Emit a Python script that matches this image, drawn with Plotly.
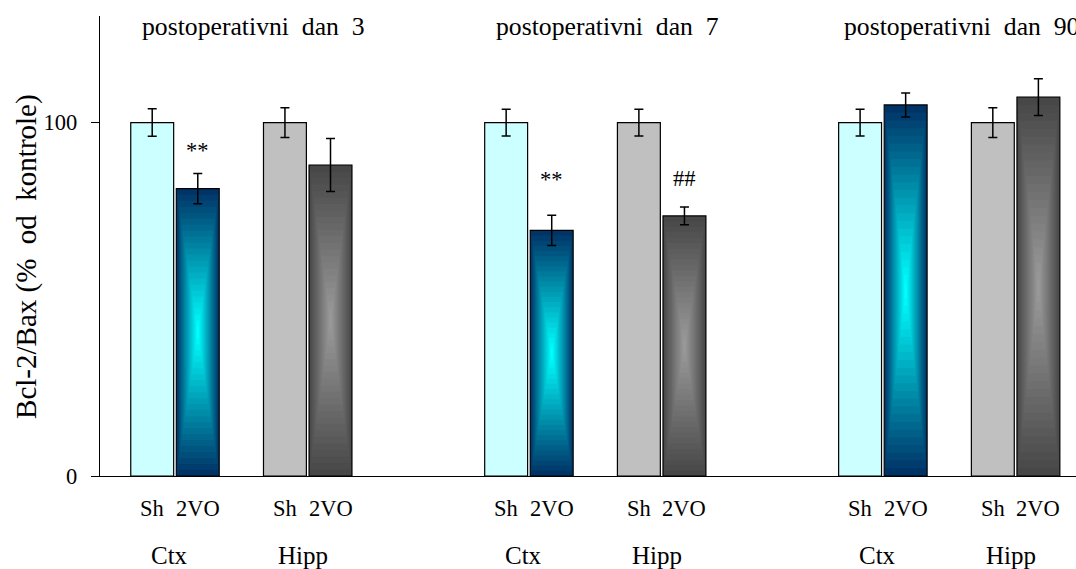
import base64
import plotly.graph_objects as go

# ---------------- data ----------------
days = ["postoperativni  dan  3", "postoperativni  dan  7", "postoperativni  dan  90"]
regions = ["Ctx", "Hipp"]
conditions = ["Sh", "2VO"]

ctx_sh = [100.0, 100.0, 100.0]
ctx_sh_se = [3.9, 3.8, 3.8]
ctx_2vo = [81.3, 69.5, 105.0]
ctx_2vo_se = [4.3, 4.3, 3.4]
hipp_sh = [100.0, 100.0, 100.0]
hipp_sh_se = [4.2, 3.8, 4.2]
hipp_2vo = [88.0, 73.6, 107.2]
hipp_2vo_se = [7.5, 2.5, 5.2]

# significance marks: (text, day index, region index, y position of the text)
sig_marks = [("**", 0, 0, 92.2), ("**", 1, 0, 83.9), ("##", 1, 1, 84.2)]

y_ticks = [0, 100]

# ---------------- styling ----------------
FONT = "Liberation Serif, Times New Roman, serif"
GROUP_STEP = 8.0
REGION_STEP = 3.0
COND_STEP = 1.03
BAR_W = 0.97

sh_colors = {"Ctx": "#ccffff", "Hipp": "#c0c0c0"}
grad_colors = {"Ctx": ("#003366", "#00ffff"), "Hipp": ("#474747", "#9a9a9a")}

values = {("Ctx", "Sh"): (ctx_sh, ctx_sh_se), ("Ctx", "2VO"): (ctx_2vo, ctx_2vo_se),
          ("Hipp", "Sh"): (hipp_sh, hipp_sh_se), ("Hipp", "2VO"): (hipp_2vo, hipp_2vo_se)}


def xpos(g, r, c):
    return g * GROUP_STEP + r * REGION_STEP + c * COND_STEP


def hex2rgb(h):
    h = h.lstrip("#")
    return tuple(int(h[i:i + 2], 16) for i in (0, 2, 4))


def grad_svg(outer, inner, n=24):
    o = hex2rgb(outer)
    i = hex2rgb(inner)
    rects = []
    for k in range(n):
        t = k / n
        col = tuple(round(o[j] + (i[j] - o[j]) * (k / (n - 1))) for j in range(3))
        x0 = 50 * t
        w = 100 * (1 - t)
        rects.append(f'<rect x="{x0:.3f}" y="{x0:.3f}" width="{w:.3f}" height="{w:.3f}" '
                     f'fill="rgb({col[0]},{col[1]},{col[2]})"/>')
    svg = ('<svg xmlns="http://www.w3.org/2000/svg" viewBox="0 0 100 100" '
           'preserveAspectRatio="none" width="100" height="100">' + "".join(rects) + "</svg>")
    return "data:image/svg+xml;base64," + base64.b64encode(svg.encode()).decode()


fig = go.Figure()
images = []
for r, reg in enumerate(regions):
    for c, cond in enumerate(conditions):
        vals, ses = values[(reg, cond)]
        xs = [xpos(g, r, c) for g in range(len(days))]
        fill = sh_colors[reg] if cond == "Sh" else "rgba(0,0,0,0)"
        fig.add_trace(go.Bar(
            x=xs, y=vals, width=BAR_W,
            marker=dict(color=fill, line=dict(color="#000000", width=1.2)),
            error_y=dict(type="data", array=ses, visible=True, color="#000000",
                         thickness=1.5, width=4.5),
            showlegend=False, hoverinfo="skip"))
        if cond == "2VO":
            src = grad_svg(*grad_colors[reg])
            for x, v in zip(xs, vals):
                images.append(dict(source=src, xref="x", yref="y", x=x - BAR_W / 2, y=v,
                                   sizex=BAR_W, sizey=v, xanchor="left", yanchor="top",
                                   sizing="stretch", layer="below"))

annotations = []
# day titles
for g, d in enumerate(days):
    annotations.append(dict(text=d, x=g * GROUP_STEP + 2.3, xref="x", y=0.977, yref="paper",
                            showarrow=False, xanchor="center", yanchor="middle",
                            font=dict(family=FONT, size=25.7, color="#000000")))
# condition + region labels
for g in range(len(days)):
    for r, reg in enumerate(regions):
        for c, cond in enumerate(conditions):
            annotations.append(dict(text=cond, x=xpos(g, r, c), xref="x", y=0, yref="paper",
                                    yshift=-32, showarrow=False, xanchor="center", yanchor="middle",
                                    font=dict(family=FONT, size=22.5, color="#000000")))
        annotations.append(dict(text=reg, x=xpos(g, r, 0) + 0.4, xref="x", y=0, yref="paper",
                                yshift=-79, showarrow=False, xanchor="center", yanchor="middle",
                                font=dict(family=FONT, size=25, color="#000000")))
# significance marks
for txt, g, r, yv in sig_marks:
    annotations.append(dict(text=txt, x=xpos(g, r, 1), xref="x", y=yv, yref="y",
                            showarrow=False, xanchor="center", yanchor="middle",
                            font=dict(family=FONT, size=22.5, color="#000000")))
# y axis title
annotations.append(dict(text="Bcl-2/Bax (%  od  kontrole)", x=-0.076, xref="paper", y=0.478,
                        yref="paper", textangle=-90, showarrow=False, xanchor="center",
                        yanchor="middle", font=dict(family=FONT, size=29, color="#000000")))

fig.update_layout(
    width=1076, height=569,
    margin=dict(l=100, r=0, t=16, b=93),
    paper_bgcolor="white", plot_bgcolor="rgba(0,0,0,0)",
    barmode="overlay",
    images=images,
    annotations=annotations,
    xaxis=dict(range=[-1.18, 20.88], showgrid=False, zeroline=False, showticklabels=False,
               ticks="", showline=True, linecolor="#000000", linewidth=1.3),
    yaxis=dict(range=[0, 130.16], showgrid=False, zeroline=False, tickvals=y_ticks,
               ticks="outside", ticklen=8, tickwidth=1.3, tickcolor="#000000",
               showline=True, linecolor="#000000", linewidth=1.3,
               ticklabelstandoff=9,
               tickfont=dict(family=FONT, size=22.5, color="#000000")),
)

fig.write_html("out.html", config={"displayModeBar": False},
               post_script="document.body.style.margin='0';document.body.style.padding='0';")
